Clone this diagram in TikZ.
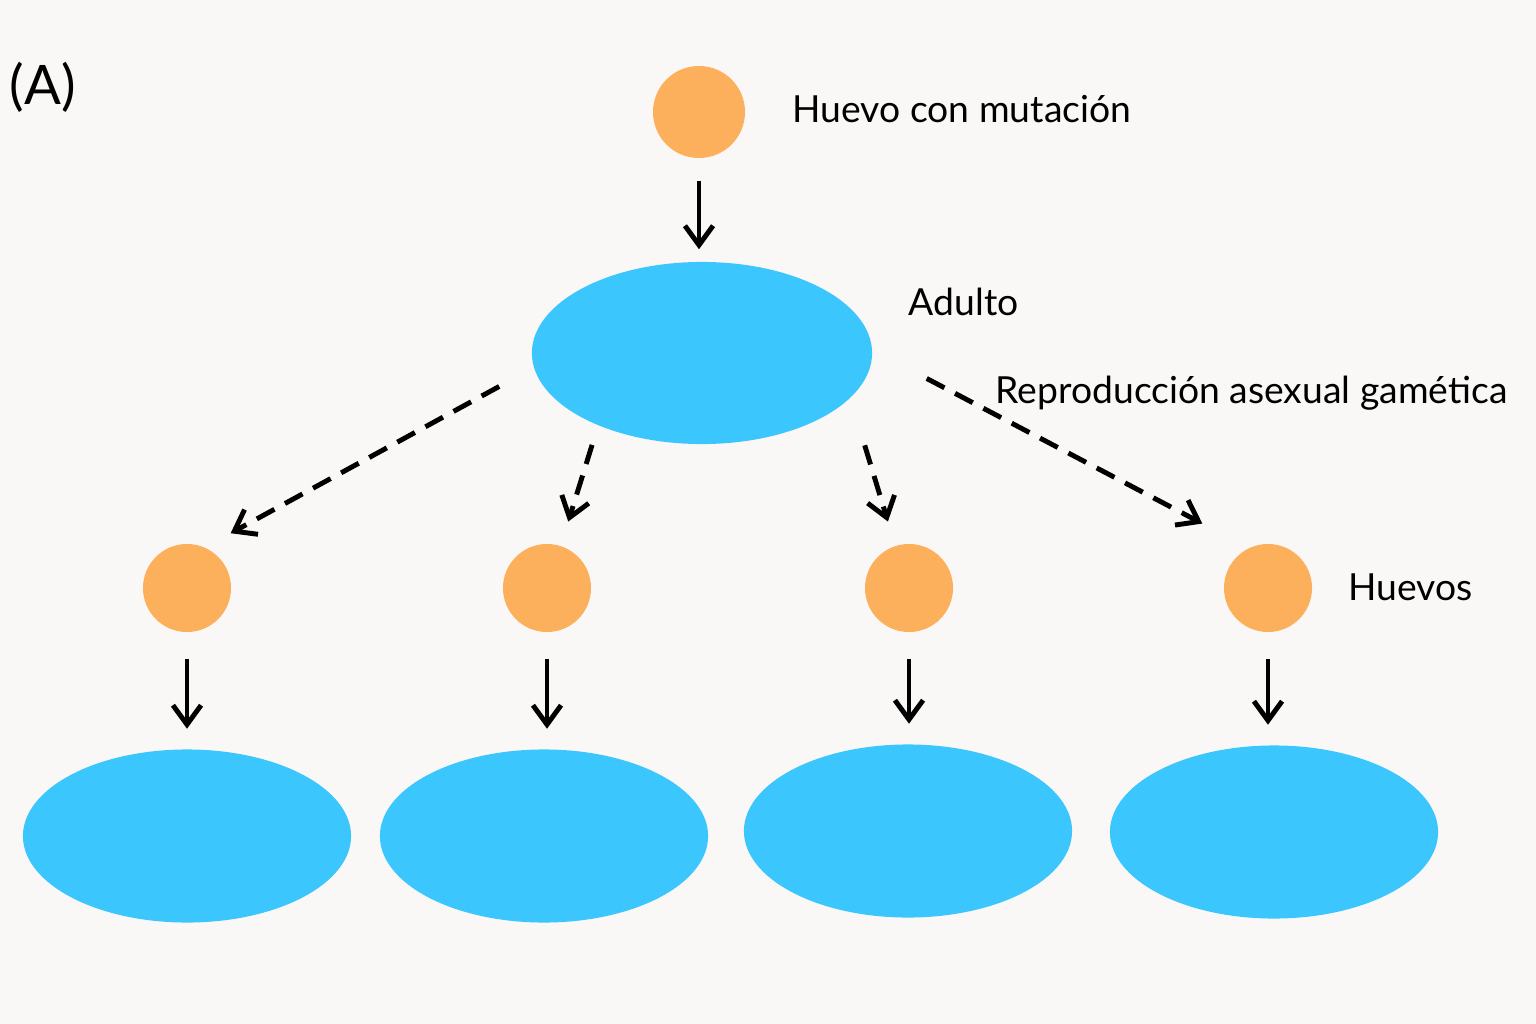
\documentclass[tikz,border=0pt]{standalone}
\usepackage{fontspec}
\setmainfont{Lato}
\usetikzlibrary{arrows.meta,shapes.geometric}
\definecolor{eggorange}{HTML}{FDB05B}
\definecolor{adultblue}{HTML}{3BC6FD}
\definecolor{paper}{HTML}{FAF8F6}
\tikzset{
  egg/.style={circle, fill=eggorange, minimum size=0.88cm, inner sep=0pt},
  adult/.style={ellipse, fill=adultblue, minimum width=3.28cm, minimum height=1.73cm, inner sep=0pt},
  growarrow/.style={-{Straight Barb[length=5.5pt,width=8pt]}, line width=1.4pt},
  dasharrow/.style={growarrow, dash pattern=on 0.2cm off 0.12cm},
  lbl/.style={anchor=base west, inner sep=0pt, font=\fontsize{10.6}{13}\selectfont}
}
\begin{document}
\begin{tikzpicture}[x=0.01cm, y=-0.01cm]
        % Background
        \useasboundingbox (0,0) rectangle (1536,1024);
        \fill[paper] (0,0) rectangle (1536,1024);

        % Panel letter
        \node[anchor=west, inner sep=0pt, font=\fontsize{15.5}{19}\selectfont] (panel) at (9,87) {(A)};

        % Mutated egg and the adult it grows into
        \node[egg, minimum size=0.92cm] (egg0) at (699,112) {};
        \node[adult, minimum width=3.4cm, minimum height=1.82cm] (parent) at (702,353) {};
        \draw[growarrow, shorten <=0.22cm, shorten >=0.12cm] (egg0.south) -- (egg0.south |- parent.north);

        % Labels
        \node[lbl] (mutlbl) at (792,122) {Huevo con mutación};
        \node[lbl] (adultlbl) at (908,315) {Adulto};
        \node[lbl] (reprolbl) at (995,403) {Reproducción asexual gamética};
        \node[lbl] (egglbl) at (1348,600) {Huevos};

        % Eggs and offspring
        \foreach \i/\ex/\cx/\cy in {1/187/187/836, 2/547/544/836, 3/909/908/831, 4/1268/1274/832} {
          \node[egg] (egg\i) at (\ex,588) {};
          \node[adult] (child\i) at (\cx,\cy) {};
          \draw[growarrow, shorten <=0.26cm, shorten >=0.2cm] (egg\i.south) -- (egg\i.south |- child\i.north);
        }

        % Dashed arrows from the adult to its eggs
        \draw[dasharrow, shorten <=0.39cm, shorten >=0.29cm] (parent.185) -- (egg1.66);
        \draw[dasharrow, shorten <=0.2cm, shorten >=0.25cm] (parent.215) -- (egg2.72);
        \draw[dasharrow, shorten <=0.49cm, shorten >=0.25cm] (parent.343) -- (egg3.108);
        \draw[dasharrow, shorten <=0.61cm, shorten >=0.52cm] (parent.1) -- (egg4.116);
      \end{tikzpicture}
\end{document}
